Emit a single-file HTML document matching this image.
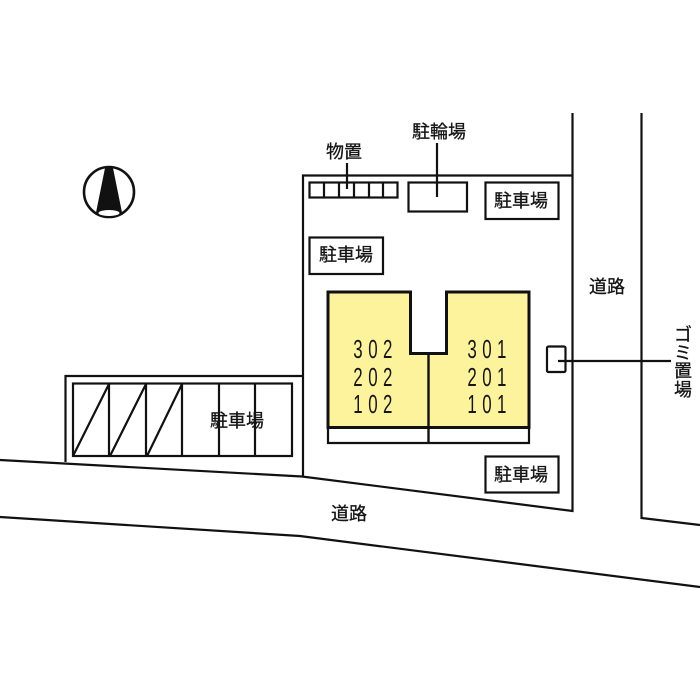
<!DOCTYPE html>
<html>
<head>
<meta charset="utf-8">
<style>
html,body{margin:0;padding:0;background:#fff;width:700px;height:700px;overflow:hidden}
svg{display:block}
text{font-family:"Liberation Sans","Noto Sans CJK JP",sans-serif;fill:#151515}
.l{fill:none;stroke:#111;stroke-width:2.200}
.t{font-size:18px;text-anchor:middle;stroke:#151515;stroke-width:.3px}
.n{font-size:26px}
</style>
</head>
<body>
<svg width="700" height="700" viewBox="0 0 700 700" xmlns="http://www.w3.org/2000/svg">
<rect width="700" height="700" fill="#fff"/>
<!-- site -->
<path class="l" d="M572.500 113V511L302 476.500M303 476V175.500H572"/>
<path class="l" d="M641.500 113V518L700 525"/>
<path class="l" d="M0 460L302 476.500"/>
<path class="l" d="M0 517L300 536L700 587"/>
<!-- parking -->
<path class="l" d="M65.500 462V376H302"/>
<rect class="l" x="73" y="383.500" width="219" height="72.500"/>
<path class="l" d="M109 384V456M146 384V456M182 384V456M219 384V456M255 384V456M73 456L109 384M110 456L146 384M147 456L182 384"/>
<!-- storage -->
<rect class="l" x="309.500" y="182.500" width="88" height="15"/>
<path class="l" d="M324 183V197M339 183V197M354 183V197M369 183V197M383 183V197M347 163V189"/>
<!-- bike -->
<rect class="l" x="408.500" y="182.500" width="58.500" height="29"/>
<path class="l" d="M437 143V197"/>
<!-- parking boxes -->
<rect class="l" x="485.500" y="182.500" width="73" height="36.500"/>
<rect class="l" x="309.500" y="237.500" width="73.500" height="36.500"/>
<rect class="l" x="485.500" y="456.500" width="73" height="36"/>
<!-- building -->
<path d="M328 292H410.500V353.500H446.500V292H529V427.500H328Z" fill="#fcf39c" stroke="#111" stroke-width="3"/>
<path class="l" d="M428.500 353V443" style="stroke-width:2.400"/>
<path class="l" d="M328 428V443H529V428"/>
<!-- garbage -->
<rect class="l" x="547" y="346.500" width="18.500" height="25.500" rx="1.500"/>
<path class="l" d="M558 361H671"/>
<!-- compass -->
<circle cx="109" cy="192" r="25" fill="#fff" stroke="#111" stroke-width="2.600"/>
<path d="M105 168H113L122.500 215H95.500Z" fill="#111"/>
<ellipse cx="109" cy="213" rx="10.500" ry="3" fill="#fff"/>
<!-- labels -->
<text class="t" x="344" y="158">物置</text>
<text class="t" x="439" y="138">駐輪場</text>
<text class="t" x="521" y="207">駐車場</text>
<text class="t" x="346" y="261">駐車場</text>
<text class="t" x="521" y="481">駐車場</text>
<text class="t" x="237" y="427">駐車場</text>
<text class="t" x="607" y="293">道路</text>
<text class="t" x="349" y="520">道路</text>
<text class="t" x="683" y="341">ゴ</text>
<text class="t" x="683" y="359">ミ</text>
<text class="t" x="683" y="377">置</text>
<text class="t" x="683" y="396">場</text>
<g transform="scale(.65 1)">
<text class="n" x="543.500 566.600 589.200" y="358">302</text>
<text class="n" x="543.500 566.600 589.200" y="386">202</text>
<text class="n" x="543.500 566.600 589.200" y="413">102</text>
<text class="n" x="719 742 764.600" y="358">301</text>
<text class="n" x="719 742 764.600" y="386">201</text>
<text class="n" x="719 742 764.600" y="413">101</text>
</g>
</svg>
</body>
</html>
